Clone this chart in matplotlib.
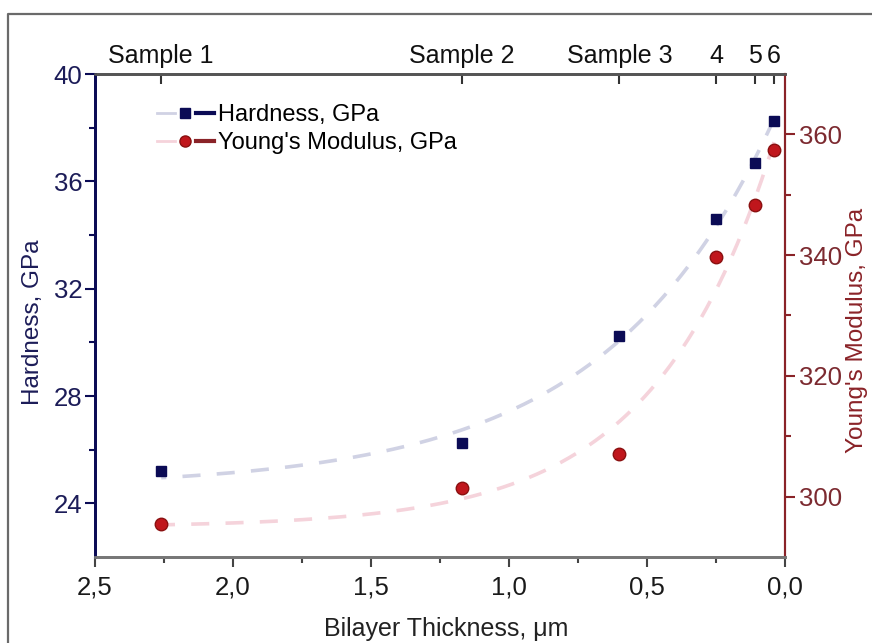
import numpy as np
import matplotlib
matplotlib.use("Agg")
import matplotlib.pyplot as plt
from matplotlib.lines import Line2D
from matplotlib.ticker import FuncFormatter, MultipleLocator, FixedLocator
from matplotlib.legend_handler import HandlerTuple

plt.rcParams["font.family"] = ["Liberation Sans", "DejaVu Sans"]

# Measured data
thickness_um = np.array([2.26, 1.17, 0.60, 0.25, 0.11, 0.04])
hardness_gpa = np.array([25.2, 26.25, 30.24, 34.6, 36.68, 38.25])
modulus_gpa = np.array([295.5, 301.5, 307.1, 339.75, 348.3, 357.4])
sample_labels = ["Sample 1", "Sample 2", "Sample 3", "4", "5", "6"]

NAVY = "#0b0b55"
NAVY_TEXT = "#1c1c58"
RED = "#c0161c"
RED_DARK = "#8a2328"
RED_TEXT = "#7c2a30"
FIT_BLUE = "#d0d2e4"
FIT_PINK = "#f5d3db"


def exp_decay_fit(x, y):
    """Least-squares fit of y = y0 + A*exp(-x/t) (grid over t)."""
    best = None
    for t in np.linspace(0.03, 3.0, 3000):
        basis = np.column_stack([np.ones_like(x), np.exp(-x / t)])
        coef, *_ = np.linalg.lstsq(basis, y, rcond=None)
        sse = np.sum((basis @ coef - y) ** 2)
        if best is None or sse < best[0]:
            best = (sse, t, coef)
    _, t, (y0, a) = best
    return lambda xx: y0 + a * np.exp(-xx / t)


fig = plt.figure(figsize=(8.72, 6.43), dpi=100)
ax = fig.add_axes([95 / 872, 1 - 557 / 643, (785 - 95) / 872, (557 - 74) / 643])
ax2 = ax.twinx()

# Outer frame
fig.add_artist(Line2D([8 / 872, 8 / 872, 1.0], [0.0, 1 - 14 / 643, 1 - 14 / 643],
                      transform=fig.transFigure, color="#6a6a6a", lw=1.6))

xfit = np.linspace(thickness_um.min(), thickness_um.max(), 300)
h_fit = exp_decay_fit(thickness_um, hardness_gpa)
m_fit = exp_decay_fit(thickness_um, modulus_gpa)

ax.plot(xfit, h_fit(xfit), color=FIT_BLUE, lw=2.6, dashes=(5, 4.5), zorder=1)
ax.plot(thickness_um, hardness_gpa, ls="none", marker="s", ms=7.5,
        mfc=NAVY, mec=NAVY, zorder=3)
ax2.plot(xfit, m_fit(xfit), color=FIT_PINK, lw=2.6, dashes=(5, 4.5), zorder=1)
ax2.plot(thickness_um, modulus_gpa, ls="none", marker="o", ms=9,
        mfc=RED, mec="#8a1010", mew=1, zorder=3)

# Axes limits and ticks
ax.set_xlim(2.5, 0.0)
ax.set_ylim(22, 40)
ax2.set_ylim(290, 370)

comma = FuncFormatter(lambda v, p: f"{v:.1f}".replace(".", ","))
ax.xaxis.set_major_locator(MultipleLocator(0.5))
ax.xaxis.set_minor_locator(MultipleLocator(0.25))
ax.xaxis.set_major_formatter(comma)
ax.yaxis.set_major_locator(FixedLocator([24, 28, 32, 36, 40]))
ax.yaxis.set_minor_locator(FixedLocator([26, 30, 34, 38]))
ax2.yaxis.set_major_locator(FixedLocator([300, 320, 340, 360]))
ax2.yaxis.set_minor_locator(FixedLocator([310, 330, 350]))

TICK_FS = 18.5
ax.tick_params(axis="x", which="major", direction="out", length=7, width=1.5,
               color="#444444", labelsize=TICK_FS, labelcolor="#1a1a1a", pad=6)
ax.tick_params(axis="x", which="minor", direction="out", length=4, width=1.5,
               color="#444444")
ax.tick_params(axis="y", which="major", direction="out", length=7, width=1.5,
               color=NAVY, labelsize=TICK_FS, labelcolor=NAVY_TEXT, pad=2)
ax.tick_params(axis="y", which="minor", direction="out", length=4, width=1.5,
               color=NAVY)
ax2.tick_params(axis="y", which="major", direction="out", length=7, width=1.5,
                color=RED_DARK, labelsize=TICK_FS, labelcolor=RED_TEXT, pad=3)
ax2.tick_params(axis="y", which="minor", direction="out", length=4, width=1.5,
                color=RED_DARK)

# Top axis marking the samples
top = ax.secondary_xaxis("top")
top.set_xticks(thickness_um, labels=sample_labels)
top.tick_params(direction="in", length=7, width=1.5, color="#333333",
                labelsize=18, labelcolor="#111111", pad=4)
top.spines["top"].set_color("#555555")
top.spines["top"].set_linewidth(1.8)

for a in (ax, ax2):
    a.spines["left"].set_color(NAVY)
    a.spines["left"].set_linewidth(2)
    a.spines["right"].set_color(RED_DARK)
    a.spines["right"].set_linewidth(1.5)
    a.spines["bottom"].set_color("#777777")
    a.spines["bottom"].set_linewidth(2)
    a.spines["top"].set_color("#555555")
    a.spines["top"].set_linewidth(1.8)

fig.text(33 / 872, 1 - 322 / 643, "Hardness, GPa", rotation=90, ha="center",
         va="center", fontsize=17.5, color=NAVY_TEXT)
fig.text(857 / 872, 1 - 330 / 643, "Young's Modulus, GPa", rotation=90,
         ha="center", va="center", fontsize=17.5, color=RED_DARK)
fig.text(446 / 872, 1 - 629 / 643, "Bilayer Thickness, \u03bcm", ha="center",
         va="center", fontsize=18, color="#222222")

# Legend: faint fit line, marker, coloured dash
h_handle = (Line2D([], [], color=FIT_BLUE, lw=2),
            Line2D([], [], ls="none", marker="s", ms=6.5, mfc=NAVY, mec=NAVY),
            Line2D([], [], color=NAVY, lw=3))
m_handle = (Line2D([], [], color=FIT_PINK, lw=2),
            Line2D([], [], ls="none", marker="o", ms=8, mfc=RED, mec="#8a1010"),
            Line2D([], [], color=RED_DARK, lw=3))
ax2.legend([h_handle, m_handle], ["Hardness, GPa", "Young's Modulus, GPa"],
           handler_map={tuple: HandlerTuple(ndivide=None, pad=0.05)},
           loc="upper left", bbox_to_anchor=(0.09, 0.937), frameon=False,
           fontsize=17, handlelength=2.4, handletextpad=0.2,
           labelspacing=0.23, borderaxespad=0, borderpad=0)

fig.savefig("out.png", dpi=100)
